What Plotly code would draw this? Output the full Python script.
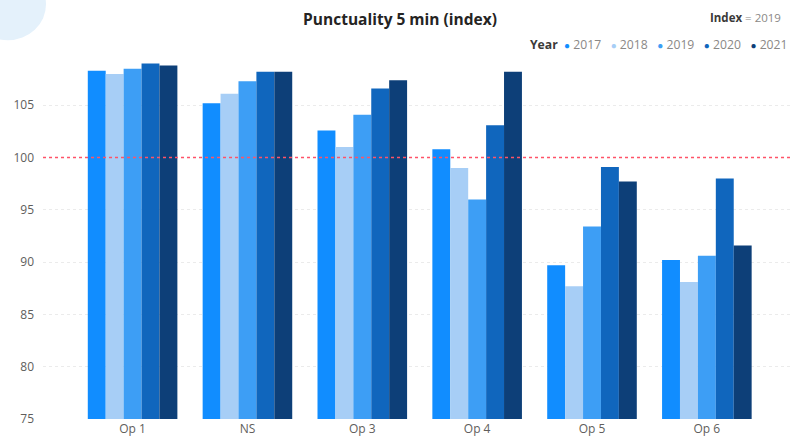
import plotly.graph_objects as go

categories = ["Op 1", "NS", "Op 3", "Op 4", "Op 5", "Op 6"]
years = ["2017", "2018", "2019", "2020", "2021"]
values_2017 = [108.3, 105.2, 102.6, 100.8, 89.7, 90.2]
values_2018 = [108.0, 106.1, 101.0, 99.0, 87.7, 88.1]
values_2019 = [108.5, 107.3, 104.1, 96.0, 93.4, 90.6]
values_2020 = [109.0, 108.2, 106.6, 103.1, 99.1, 98.0]
values_2021 = [108.8, 108.2, 107.4, 108.2, 97.7, 91.6]
series_values = [values_2017, values_2018, values_2019, values_2020, values_2021]
colors = ["#118DFF", "#A7CEF6", "#3D9EF5", "#1066BD", "#0D3F78"]
index_line = 100
y_ticks = [75, 80, 85, 90, 95, 100, 105]

FONT = "Segoe UI, Open Sans, sans-serif"

fig = go.Figure()
for yr, vals, col in zip(years, series_values, colors):
    fig.add_trace(go.Bar(x=categories, y=vals, name=yr, marker_color=col,
                         marker_line_width=0, showlegend=False))

# reference line at index 100
fig.add_shape(type="line", xref="paper", x0=0, x1=1, yref="y",
              y0=index_line, y1=index_line,
              line=dict(color="#FF5368", width=1.4, dash="dot"), layer="above")

# faint decorative circle top-left
fig.add_shape(type="circle", xref="paper", yref="paper",
              x0=-0.098, x1=0.004, y0=1.035, y1=1.23,
              fillcolor="#E4F1FB", line_width=0, layer="below")

legend_html = "<b style='color:#3b3a39'>Year</b>&nbsp;&nbsp;" + "&nbsp;&nbsp; ".join(
    f"<span style='color:{c};font-size:10px'>●</span>&nbsp;<span style='color:#8a8886'>{y}</span>"
    for y, c in zip(years, colors))
fig.add_annotation(xref="paper", yref="paper", x=0.647, y=1.022,
                   xanchor="left", yanchor="middle", showarrow=False,
                   text=legend_html, font=dict(family=FONT, size=12.2, color="#8a8886"))
fig.add_annotation(xref="paper", yref="paper", x=0.886, y=1.098,
                   xanchor="left", yanchor="middle", showarrow=False,
                   text="<b style='color:#3b3a39'>Index</b> = 2019",
                   font=dict(family=FONT, size=11.5, color="#8a8886"))

fig.update_layout(
    width=793, height=437,
    margin=dict(l=43, r=0, t=53, b=18),
    paper_bgcolor="white", plot_bgcolor="white",
    barmode="group", bargap=0.22, bargroupgap=0,
    title=dict(text="<b>Punctuality 5 min (index)</b>", x=400/793, xanchor="center",
               y=1 - 20/437, yanchor="middle", xref="container", yref="container",
               font=dict(family=FONT, size=15.5, color="#252423")),
    font=dict(family=FONT, color="#605E5C"),
)
fig.update_xaxes(range=[-0.78, 5.75], showgrid=False, showline=False, zeroline=False,
                 tickfont=dict(family=FONT, size=12, color="#605E5C"), ticks="",
                 ticklabelstandoff=1)
fig.update_yaxes(range=[75, 110], tickvals=y_ticks, showgrid=True, gridcolor="#EBEBEB",
                 griddash="dot", gridwidth=1, zeroline=False, showline=False, ticks="",
                 ticklabelstandoff=8,
                 tickfont=dict(family=FONT, size=12, color="#605E5C"))

fig.write_html("out.html", config={"displayModeBar": False},
               post_script="document.body.style.margin='0';")
